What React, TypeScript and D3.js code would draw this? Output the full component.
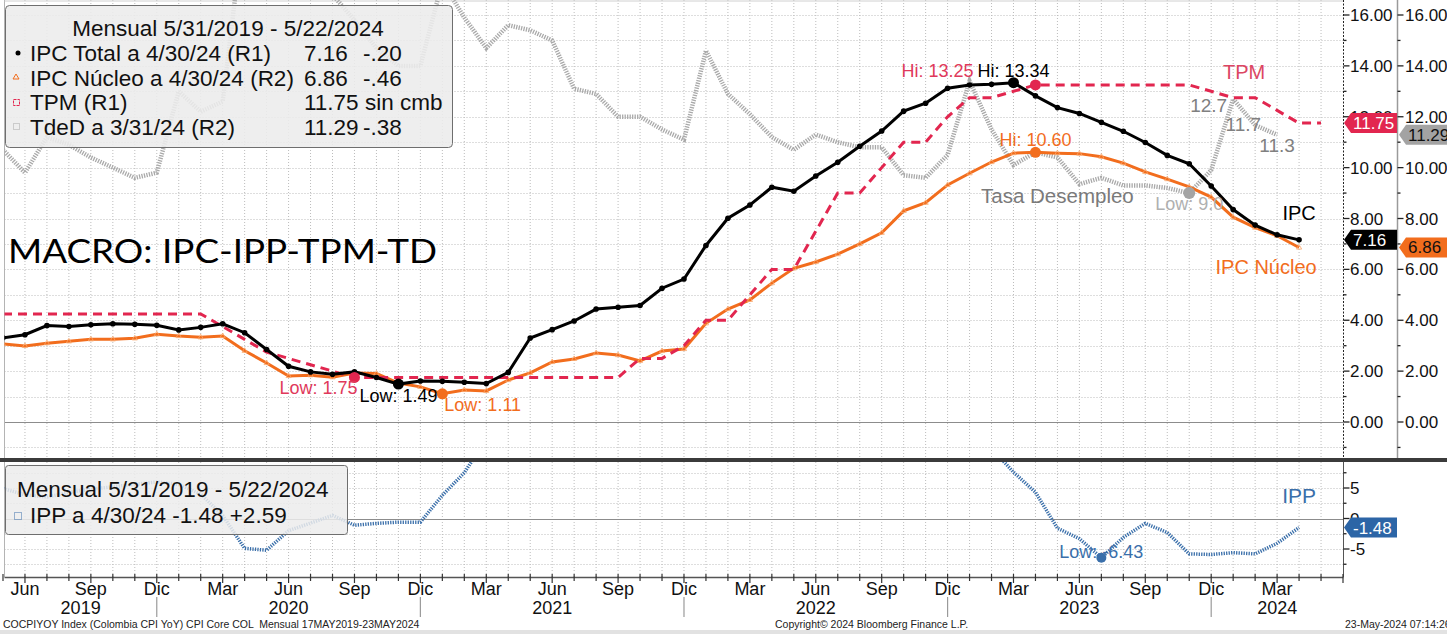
import * as d3 from 'd3';
import * as React from 'react';
import { useEffect, useRef } from 'react';

// monthly series, first value = May 2019
const ipcTotal = [
  3.31, 3.43, 3.79, 3.75, 3.82, 3.86, 3.84, 3.8,
  3.62, 3.72, 3.86, 3.51, 2.85, 2.19, 1.97, 1.88, 1.97, 1.75, 1.49, 1.61,
  1.6, 1.56, 1.51, 1.95, 3.3, 3.63, 3.97, 4.44, 4.51, 4.58, 5.26, 5.62,
  6.94, 8.01, 8.53, 9.23, 9.07, 9.67, 10.21, 10.84, 11.44, 12.22, 12.53, 13.12,
  13.25, 13.28, 13.34, 12.82, 12.36, 12.13, 11.78, 11.43, 10.99, 10.48, 10.15, 9.28,
  8.35, 7.74, 7.36, 7.16,
];
const ipcNucleo = [
  3.07, 2.99, 3.1, 3.17, 3.25, 3.25, 3.29, 3.45,
  3.38, 3.33, 3.38, 2.8, 2.32, 1.81, 1.84, 1.76, 1.93, 1.91, 1.53, 1.38,
  1.11, 1.26, 1.22, 1.65, 1.93, 2.36, 2.48, 2.71, 2.63, 2.4, 2.79, 2.87,
  3.88, 4.44, 4.8, 5.46, 6.04, 6.29, 6.6, 7.0, 7.44, 8.3, 8.62, 9.32,
  9.78, 10.22, 10.57, 10.6, 10.57, 10.55, 10.43, 10.18, 9.83, 9.55, 9.24, 8.84,
  8.05, 7.64, 7.32, 6.86,
];
// to May 2024
const tpm = [
  4.25, 4.25, 4.25, 4.25, 4.25, 4.25, 4.25, 4.25,
  4.25, 4.25, 3.75, 3.25, 2.75, 2.5, 2.25, 2.0, 1.75, 1.75, 1.75, 1.75,
  1.75, 1.75, 1.75, 1.75, 1.75, 1.75, 1.75, 1.75, 1.75, 2.5, 2.5, 3.0,
  4.0, 4.0, 5.0, 6.0, 6.0, 7.5, 9.0, 9.0, 10.0, 11.0, 11.0, 12.0,
  12.75, 12.75, 13.0, 13.25, 13.25, 13.25, 13.25, 13.25, 13.25, 13.25, 13.25, 13.0,
  12.75, 12.75, 12.25, 11.75, 11.75,
];
// to Mar 2024
const tasaDesempleo = [
  10.7, 9.8, 11.2, 10.9, 10.4, 10.0, 9.6, 9.8,
  13.0, 12.2, 12.6, 19.8, 21.4, 19.8, 20.2, 16.8, 15.8, 14.7, 14.0, 14.0,
  17.3, 15.9, 14.7, 15.6, 15.4, 15.0, 13.1, 12.9, 12.0, 12.0, 11.5, 11.1,
  14.6, 12.9, 12.1, 11.2, 10.7, 11.3, 11.0, 10.8, 10.8, 9.7, 9.6, 10.5,
  13.4, 11.5, 10.1, 10.6, 10.4, 9.35, 9.6, 9.3, 9.3, 9.2, 9.0, 9.9,
  12.7, 11.67, 11.29,
];
const ipp = [
  4.9, 3.9, 3.5, 4.3, 4.8, 5.2, 5.6, 6.0,
  5.6, 4.0, 0.5, -4.9, -5.2, -2.0, -0.75, 0.5, -1.1, -0.8, -0.6, -0.6,
  3.8, 7.5, 13.0, 16.5, 19.5, 20.5, 21.0, 22.0, 22.5, 23.5, 25.0, 25.5,
  26.0, 26.5, 27.0, 28.0, 28.5, 29.0, 28.0, 27.0, 25.0, 24.0, 22.0, 20.0,
  15.5, 11.5, 7.6, 4.3, -1.6, -3.3, -6.43, -3.1, -0.8, -2.3, -5.8, -5.9,
  -5.6, -5.8, -4.07, -1.48,
];

const quarterNames = ['Jun', 'Sep', 'Dic', 'Mar'];
const yearNames = ['2019', '2020', '2021', '2022', '2023', '2024'];
const rightTicks = [0, 2, 4, 6, 8, 10, 12, 14, 16];
const lowerTicks = [5, 0, -5];

const W = 1447;
const H = 634;
const FONT = "'Liberation Sans', Arial, sans-serif";
const RED = '#e2264f';
const ORANGE = '#f26d1d';
const GREY = '#a9a9a9';
const BLUE = '#3a6faa';

const App: React.FC = () => {
  const ref = useRef<SVGSVGElement>(null);

  useEffect(() => {
    if (!ref.current) return;
    const svg = d3.select(ref.current);
    svg.selectAll('*').remove();

    const left = 4.5;
    const right = 1343.5;
    const x = d3.scaleLinear().domain([0, 61]).range([3, 1343]);
    const yTop = d3.scaleLinear().domain([0, 16]).range([422, 15]);
    const yBot = d3.scaleLinear().domain([-5, 5]).range([549, 488]);

    svg.append('rect').attr('width', W).attr('height', H).attr('fill', '#fff');

    const defs = svg.append('defs');
    defs.append('clipPath').attr('id', 'cTop').append('rect')
      .attr('x', left).attr('y', 0).attr('width', right - left).attr('height', 458);
    defs.append('clipPath').attr('id', 'cBot').append('rect')
      .attr('x', left).attr('y', 462).attr('width', right - left).attr('height', 115);

    // grid
    const grid = svg.append('g').attr('stroke', '#bcbcbc').attr('stroke-width', 1);
    d3.range(1, 61).forEach((i) => {
      [[0, 458], [462, 577]].forEach(([a, b]) => {
        grid.append('line').attr('x1', x(i)).attr('x2', x(i)).attr('y1', a).attr('y2', b)
          .attr('stroke-dasharray', '1,2');
      });
    });
    d3.range(-1, 17).forEach((v) => {
      grid.append('line').attr('x1', left).attr('x2', right)
        .attr('y1', Math.round(yTop(v)) + 0.5).attr('y2', Math.round(yTop(v)) + 0.5)
        .attr('stroke', v === 0 ? '#8c8c8c' : '#bcbcbc')
        .attr('stroke-dasharray', v === 0 ? null : '1,2');
    });
    [-7.5, -5, -2.5, 0, 2.5, 5, 7.5].forEach((v) => {
      grid.append('line').attr('x1', left).attr('x2', right)
        .attr('y1', Math.round(yBot(v)) + 0.5).attr('y2', Math.round(yBot(v)) + 0.5)
        .attr('stroke', v === 0 ? '#8c8c8c' : '#bcbcbc')
        .attr('stroke-dasharray', v === 0 ? null : '1,2');
    });
    svg.append('line').attr('x1', left).attr('x2', left).attr('y1', 0).attr('y2', 577)
      .attr('stroke', '#b4b4b4');
    svg.append('line').attr('x1', left).attr('x2', right).attr('y1', 1).attr('y2', 1)
      .attr('stroke', '#d0d0d0');

    // top panel lines
    const top = svg.append('g').attr('clip-path', 'url(#cTop)');
    const lineTop = d3.line<number>().x((_, i) => x(i)).y((d) => yTop(d));
    top.append('path').attr('d', lineTop(tasaDesempleo)).attr('fill', 'none')
      .attr('stroke', GREY).attr('stroke-width', 4.5).attr('stroke-dasharray', '1.3,1.2');
    top.append('path').attr('d', lineTop(ipcNucleo)).attr('fill', 'none')
      .attr('stroke', ORANGE).attr('stroke-width', 3);
    ipcNucleo.forEach((d, i) => {
      const cx = x(i), cy = yTop(d);
      top.append('path').attr('d', `M${cx},${cy - 3}L${cx + 2.6},${cy + 1.6}L${cx - 2.6},${cy + 1.6}Z`)
        .attr('fill', 'none').attr('stroke', '#f9a66a').attr('stroke-width', 0.8);
    });
    top.append('path').attr('d', lineTop(tpm)).attr('fill', 'none')
      .attr('stroke', RED).attr('stroke-width', 3).attr('stroke-dasharray', '9,6');
    top.append('path').attr('d', lineTop(ipcTotal)).attr('fill', 'none')
      .attr('stroke', '#000').attr('stroke-width', 3);
    top.selectAll('circle.ipc').data(ipcTotal).enter().append('circle')
      .attr('cx', (_, i) => x(i)).attr('cy', (d) => yTop(d)).attr('r', 2.8).attr('fill', '#000');

    // lower panel line
    const bot = svg.append('g').attr('clip-path', 'url(#cBot)');
    const lineBot = d3.line<number>().x((_, i) => x(i)).y((d) => yBot(d));
    bot.append('path').attr('d', lineBot(ipp)).attr('fill', 'none')
      .attr('stroke', BLUE).attr('stroke-width', 3.5).attr('stroke-dasharray', '1.3,1.2');

    // hi / low markers and labels
    const ext = (arr: number[], fn: 'max' | 'min') => {
      const v = fn === 'max' ? d3.max(arr)! : d3.min(arr)!;
      return { i: arr.indexOf(v), v };
    };
    const txt = (g: any, s: string, tx: number, ty: number, color: string, size: number, anchor = 'middle') =>
      g.append('text').attr('x', tx).attr('y', ty).attr('fill', color).attr('font-size', size)
        .attr('font-family', FONT).attr('text-anchor', anchor).text(s);

    const ann = svg.append('g');
    const tpmHi = ext(tpm, 'max');
    const tpmLo = { i: tpm.indexOf(1.75), v: 1.75 };
    const ipcHi = ext(ipcTotal, 'max');
    const ipcLo = ext(ipcTotal, 'min');
    const nucHi = ext(ipcNucleo, 'max');
    const nucLo = ext(ipcNucleo, 'min');
    const tdLo = ext(tasaDesempleo.slice(40), 'min');
    tdLo.i += 40;
    const ippLo = ext(ipp.slice(40), 'min');
    ippLo.i += 40;

    const dot = (i: number, cy: number, color: string, r = 5.5) =>
      ann.append('circle').attr('cx', x(i)).attr('cy', cy).attr('r', r).attr('fill', color);
    dot(tpmHi.i, yTop(tpmHi.v), RED);
    dot(tpmLo.i, yTop(tpmLo.v), RED);
    dot(ipcHi.i, yTop(ipcHi.v), '#000');
    dot(ipcLo.i, yTop(ipcLo.v), '#000');
    dot(nucHi.i, yTop(nucHi.v), ORANGE);
    dot(nucLo.i, yTop(nucLo.v), ORANGE);
    dot(tdLo.i, yTop(tdLo.v), '#a4a4a4', 6);

    txt(ann, `Hi: ${tpmHi.v.toFixed(2)}`, x(tpmHi.i) - 62, yTop(tpmHi.v) - 8, '#e0395b', 18, 'end');
    txt(ann, `Hi: ${ipcHi.v.toFixed(2)}`, x(ipcHi.i), yTop(ipcHi.v) - 6, '#000', 18);
    txt(ann, `Hi: ${nucHi.v.toFixed(2)}`, x(nucHi.i), yTop(nucHi.v) - 6, ORANGE, 18);
    txt(ann, `Low: ${tpmLo.v.toFixed(2)}`, x(tpmLo.i) + 3, yTop(tpmLo.v) + 17, '#e0395b', 18, 'end');
    txt(ann, `Low: ${ipcLo.v.toFixed(2)}`, x(ipcLo.i), yTop(ipcLo.v) + 18, '#000', 18);
    txt(ann, `Low: ${nucLo.v.toFixed(2)}`, x(nucLo.i) + 2, yTop(nucLo.v) + 17, ORANGE, 18, 'start');
    txt(ann, `Low: ${tdLo.v.toFixed(1)}`, x(tdLo.i), yTop(tdLo.v) + 17, '#b0b0b0', 18);

    const n = tasaDesempleo.length;
    txt(ann, tasaDesempleo[n - 3].toFixed(1), x(n - 3) - 6, yTop(tasaDesempleo[n - 3]) + 13, '#808080', 19, 'end');
    txt(ann, tasaDesempleo[n - 2].toFixed(1), x(n - 2) + 6, yTop(tasaDesempleo[n - 2]) + 6, '#808080', 19, 'end');
    txt(ann, tasaDesempleo[n - 1].toFixed(1), x(n - 1), yTop(tasaDesempleo[n - 1]) + 17, '#808080', 19);

    txt(ann, 'TPM', x(56.5), yTop(13.25) - 6, '#dc4663', 20);
    txt(ann, 'IPC', x(ipcTotal.length - 1), yTop(ipcTotal[ipcTotal.length - 1]) - 20, '#000', 20);
    txt(ann, 'IPC Núcleo', x(57.5), yTop(ipcNucleo[ipcNucleo.length - 1]) + 27, ORANGE, 20);
    txt(ann, 'Tasa Desempleo', x(48), yTop(9.0) + 10, '#7a7a7a', 20.5);

    dot(ippLo.i, yBot(ippLo.v), BLUE, 5);
    txt(ann, `Low: ${ippLo.v.toFixed(2)}`, x(ippLo.i), yBot(ippLo.v), BLUE, 18);
    txt(ann, 'IPP', x(ipp.length - 1), yBot(ipp[ipp.length - 1]) - 25, BLUE, 21);

    // title
    svg.append('text').attr('x', 8).attr('y', 263).attr('font-family', "Lato, 'Open Sans', sans-serif")
      .attr('font-size', 33).attr('textLength', 429).attr('lengthAdjust', 'spacingAndGlyphs')
      .attr('fill', '#000').text('MACRO: IPC-IPP-TPM-TD');

    // legends
    const lg = svg.append('g');
    lg.append('rect').attr('x', 5.5).attr('y', 5.5).attr('width', 447).attr('height', 142).attr('rx', 4)
      .attr('fill', '#ececec').attr('fill-opacity', 0.88).attr('stroke', '#6e6e6e');
    const LF = 22.5;
    txt(lg, 'Mensual 5/31/2019 - 5/22/2024', 228, 36, '#111', LF);
    const rows = [
      ['IPC Total a 4/30/24 (R1)', '7.16', '-.20'],
      ['IPC Núcleo a 4/30/24 (R2)', '6.86', '-.46'],
      ['TPM (R1)', '11.75 sin cmb', ''],
      ['TdeD a 3/31/24 (R2)', '11.29', '-.38'],
    ];
    rows.forEach((r, k) => {
      const by = 61 + k * 24.5;
      txt(lg, r[0], 30, by, '#111', LF, 'start');
      txt(lg, r[1], 304, by, '#111', LF, 'start');
      if (r[2]) txt(lg, r[2], 363, by, '#111', LF, 'start');
    });
    lg.append('circle').attr('cx', 18).attr('cy', 53).attr('r', 2.5).attr('fill', '#000');
    lg.append('path').attr('d', 'M16,74L19,79L13,79Z').attr('fill', 'none').attr('stroke', ORANGE);
    lg.append('rect').attr('x', 13.5).attr('y', 99.5).attr('width', 6).attr('height', 6)
      .attr('fill', 'none').attr('stroke', RED).attr('stroke-dasharray', '3,1');
    lg.append('rect').attr('x', 13.5).attr('y', 123.5).attr('width', 6).attr('height', 6)
      .attr('fill', 'none').attr('stroke', GREY).attr('stroke-dasharray', '1,1');

    lg.append('rect').attr('x', 5.5).attr('y', 465.5).attr('width', 342).attr('height', 69).attr('rx', 3)
      .attr('fill', '#ececec').attr('fill-opacity', 0.85).attr('stroke', '#6e6e6e');
    txt(lg, 'Mensual 5/31/2019 - 5/22/2024', 17, 497, '#111', LF, 'start');
    txt(lg, 'IPP a 4/30/24 -1.48 +2.59', 30, 523, '#111', LF, 'start');
    lg.append('rect').attr('x', 14.5).attr('y', 512.5).attr('width', 7).attr('height', 7)
      .attr('fill', 'none').attr('stroke', BLUE).attr('stroke-dasharray', '1,1');

    // separator
    svg.append('rect').attr('x', 0).attr('y', 458).attr('width', W).attr('height', 4).attr('fill', '#3b3b3b');

    // right axes
    const ax = svg.append('g');
    ax.append('line').attr('x1', right).attr('x2', right).attr('y1', 0).attr('y2', 458)
      .attr('stroke', '#222').attr('stroke-dasharray', '2,1.5');
    ax.append('line').attr('x1', 1397.5).attr('x2', 1397.5).attr('y1', 0).attr('y2', 458)
      .attr('stroke', '#9a9a9a').attr('stroke-width', 1.5);
    ax.append('line').attr('x1', right).attr('x2', right).attr('y1', 462).attr('y2', 577)
      .attr('stroke', '#555');
    d3.range(-1, 17).forEach((v) => {
      const yy = yTop(v);
      const len = v % 2 === 0 ? 6 : 3;
      [right, 1397.5].forEach((ax0) => {
        ax.append('line').attr('x1', ax0).attr('x2', ax0 + len).attr('y1', yy).attr('y2', yy)
          .attr('stroke', '#222').attr('stroke-width', 1.3);
      });
    });
    rightTicks.forEach((v) => {
      txt(ax, v.toFixed(2), 1350, yTop(v) + 6, '#111', 17, 'start');
      txt(ax, v.toFixed(2), 1405, yTop(v) + 6, '#111', 17, 'start');
    });
    [-7.5, -2.5, 2.5, 7.5].forEach((v) => {
      ax.append('line').attr('x1', right).attr('x2', right + 3).attr('y1', yBot(v)).attr('y2', yBot(v))
        .attr('stroke', '#222').attr('stroke-width', 1.3);
    });
    lowerTicks.forEach((v) => {
      ax.append('line').attr('x1', right).attr('x2', right + 6).attr('y1', yBot(v)).attr('y2', yBot(v))
        .attr('stroke', '#222').attr('stroke-width', 1.3);
      txt(ax, String(v), 1350, yBot(v) + 6, '#111', 17, 'start');
    });

    // value tags
    const tag = (x0: number, x1: number, cy: number, fill: string, color: string, s: string) => {
      ax.append('path')
        .attr('d', `M${x0},${cy}L${x0 + 7},${cy - 10}L${x1},${cy - 10}L${x1},${cy + 10}L${x0 + 7},${cy + 10}Z`)
        .attr('fill', fill);
      txt(ax, s, x0 + 9, cy + 6, color, 17, 'start');
    };
    tag(1344, 1397, yTop(tpm[tpm.length - 1]), RED, '#fff', tpm[tpm.length - 1].toFixed(2));
    tag(1344, 1397, yTop(ipcTotal[ipcTotal.length - 1]), '#000', '#fff', ipcTotal[ipcTotal.length - 1].toFixed(2));
    tag(1399, 1447, yTop(tasaDesempleo[n - 1]), '#a3a3a3', '#111', tasaDesempleo[n - 1].toFixed(2));
    tag(1399, 1447, yTop(ipcNucleo[ipcNucleo.length - 1]), ORANGE, '#111', ipcNucleo[ipcNucleo.length - 1].toFixed(2));
    tag(1344, 1397, yBot(ipp[ipp.length - 1]), '#2c65a6', '#fff', ipp[ipp.length - 1].toFixed(2));

    // bottom axis
    const bx = svg.append('g');
    bx.append('line').attr('x1', left).attr('x2', right).attr('y1', 577.5).attr('y2', 577.5)
      .attr('stroke', '#555').attr('stroke-width', 1.5);
    d3.range(0, 62).forEach((i) => {
      const q = i % 3 === 1;
      bx.append('line').attr('x1', x(i)).attr('x2', x(i)).attr('y1', 574).attr('y2', q ? 583 : 581)
        .attr('stroke', '#333').attr('stroke-width', 1.2);
    });
    d3.range(1, 59, 3).forEach((i, k) => {
      txt(bx, quarterNames[k % 4], x(i), 595, '#111', 18);
    });
    const bounds = [left, ...d3.range(7, 56, 12).map((i) => x(i)), right];
    yearNames.forEach((yname, k) => {
      txt(bx, yname, (bounds[k] + bounds[k + 1]) / 2, 614, '#111', 18);
    });
    d3.range(7, 56, 12).forEach((i) => {
      bx.append('line').attr('x1', x(i)).attr('x2', x(i)).attr('y1', 597).attr('y2', 617)
        .attr('stroke', '#9a9a9a').attr('stroke-width', 1.2);
    });

    // footer
    svg.append('rect').attr('x', 0).attr('y', 630).attr('width', W).attr('height', 4).attr('fill', '#e2e2e2');
    txt(svg, 'COCPIYOY Index (Colombia CPI YoY) CPI Core COL  Mensual 17MAY2019-23MAY2024', 3, 628, '#222', 10.5, 'start')
      .attr('xml:space', 'preserve');
    txt(svg, 'Copyright© 2024 Bloomberg Finance L.P.', 775, 628, '#222', 10.5, 'start');
    txt(svg, '23-May-2024 07:14:26', 1345, 628, '#222', 10.5, 'start');
  }, []);

  return (
    <div style={{ position: 'absolute', left: 0, top: 0 }}>
      <svg ref={ref} width={W} height={H} style={{ display: 'block' }} />
    </div>
  );
};

export default App;
